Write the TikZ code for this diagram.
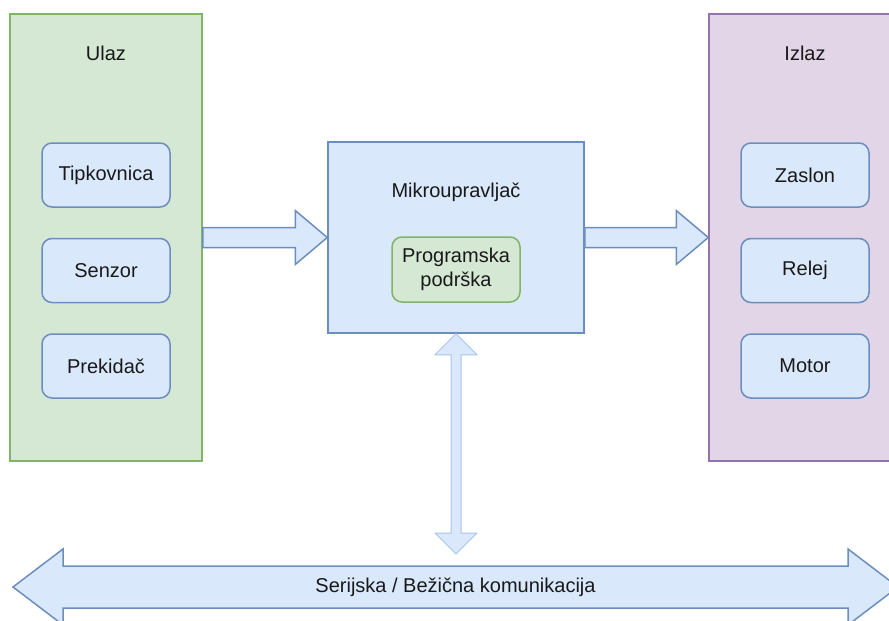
\documentclass[tikz,border=0pt]{standalone}
\usepackage{fontspec}
\setmainfont{Liberation Sans}
\usepackage{tikz}
\usetikzlibrary{positioning,calc}

\definecolor{bluefill}{HTML}{DAE8FC}
\definecolor{bluedraw}{HTML}{6C8EBF}
\definecolor{lightdraw}{HTML}{A9C4EB}
\definecolor{greenfill}{HTML}{D5E8D4}
\definecolor{greendraw}{HTML}{82B366}
\definecolor{purplefill}{HTML}{E1D5E7}
\definecolor{purpledraw}{HTML}{9673A6}

\begin{document}
\begin{tikzpicture}[x=1pt, y=-1pt,
		every node/.style={font=\fontsize{20}{24}\selectfont, text=black!90, align=center},
		column/.style={draw, line width=1.5pt, minimum width=192pt, minimum height=447pt},
		item/.style={draw=bluedraw, fill=bluefill, line width=1.5pt, rounded corners=10pt, minimum width=128pt, minimum height=64pt},
		fat arrow/.style={draw=bluedraw, fill=bluefill, line width=1.5pt,
			to path={($(\tikztostart)+(0,-10)$) -- ($(\tikztotarget)+(-32,-10)$) -- ($(\tikztotarget)+(-32,-27)$) -- (\tikztotarget)
				-- ($(\tikztotarget)+(-32,27)$) -- ($(\tikztotarget)+(-32,10)$) -- ($(\tikztostart)+(0,10)$) -- cycle}},
		fat double/.style={draw=lightdraw, fill=bluefill, line width=1pt,
			to path={(\tikztostart) -- ($(\tikztostart)+(21,21)$) -- ($(\tikztostart)+(5,21)$) -- ($(\tikztotarget)+(5,-21)$)
				-- ($(\tikztotarget)+(21,-21)$) -- (\tikztotarget) -- ($(\tikztotarget)+(-21,-21)$) -- ($(\tikztotarget)+(-5,-21)$)
				-- ($(\tikztostart)+(-5,21)$) -- ($(\tikztostart)+(-21,21)$) -- cycle}}]
			\clip (0,0) rectangle (889,621);
			% ulaz
			\node[column, draw=greendraw, fill=greenfill] (ulaz) at (106,237.5) {};
			\node (ulazlbl) at (106,53) {Ulaz};
			\node[item] (tipkovnica) at (106,175) {Tipkovnica};
			\node[item, below=30pt of tipkovnica] (senzor) {Senzor};
			\node[item, below=30pt of senzor] (prekidac) {Prekidač};
			% izlaz
			\node[column, draw=purpledraw, fill=purplefill] (izlaz) at (805,237.5) {};
			\node (izlazlbl) at (805,53) {Izlaz};
			\node[item] (zaslon) at (805,175) {Zaslon};
			\node[item, below=30pt of zaslon] (relej) {Relej};
			\node[item, below=30pt of relej] (motor) {Motor};
			% mikroupravljac
			\node[draw=bluedraw, fill=bluefill, line width=1.5pt, minimum width=256pt, minimum height=191pt] (mcu) at (456,237.5) {};
			\node (mculbl) at (456,192) {Mikroupravljač};
			\node[item, draw=greendraw, fill=greenfill, minimum height=65pt] (softver) at (456,269.5) {Programska\\podrška};
			\draw[fat arrow] (ulaz.east) to (mcu.west);
			\draw[fat arrow] (mcu.east) to (izlaz.west);
			% sabirnica
			\coordinate (buscentre) at (455.5,587);
			\draw[draw=bluedraw, fill=bluefill, line width=1.5pt, shift={(buscentre)}]
				(-442.5,0) -- (-392.5,-38) -- (-392.5,-21) -- (392.5,-21) -- (392.5,-38) -- (442.5,0)
				-- (392.5,38) -- (392.5,21) -- (-392.5,21) -- (-392.5,38) -- cycle;
			\node (bus) at (buscentre) {Serijska / Bežična komunikacija};
			\coordinate (busin) at (mcu.south |- 0,554);
			\draw[fat double] (mcu.south) to (busin);
		\end{tikzpicture}
\end{document}
